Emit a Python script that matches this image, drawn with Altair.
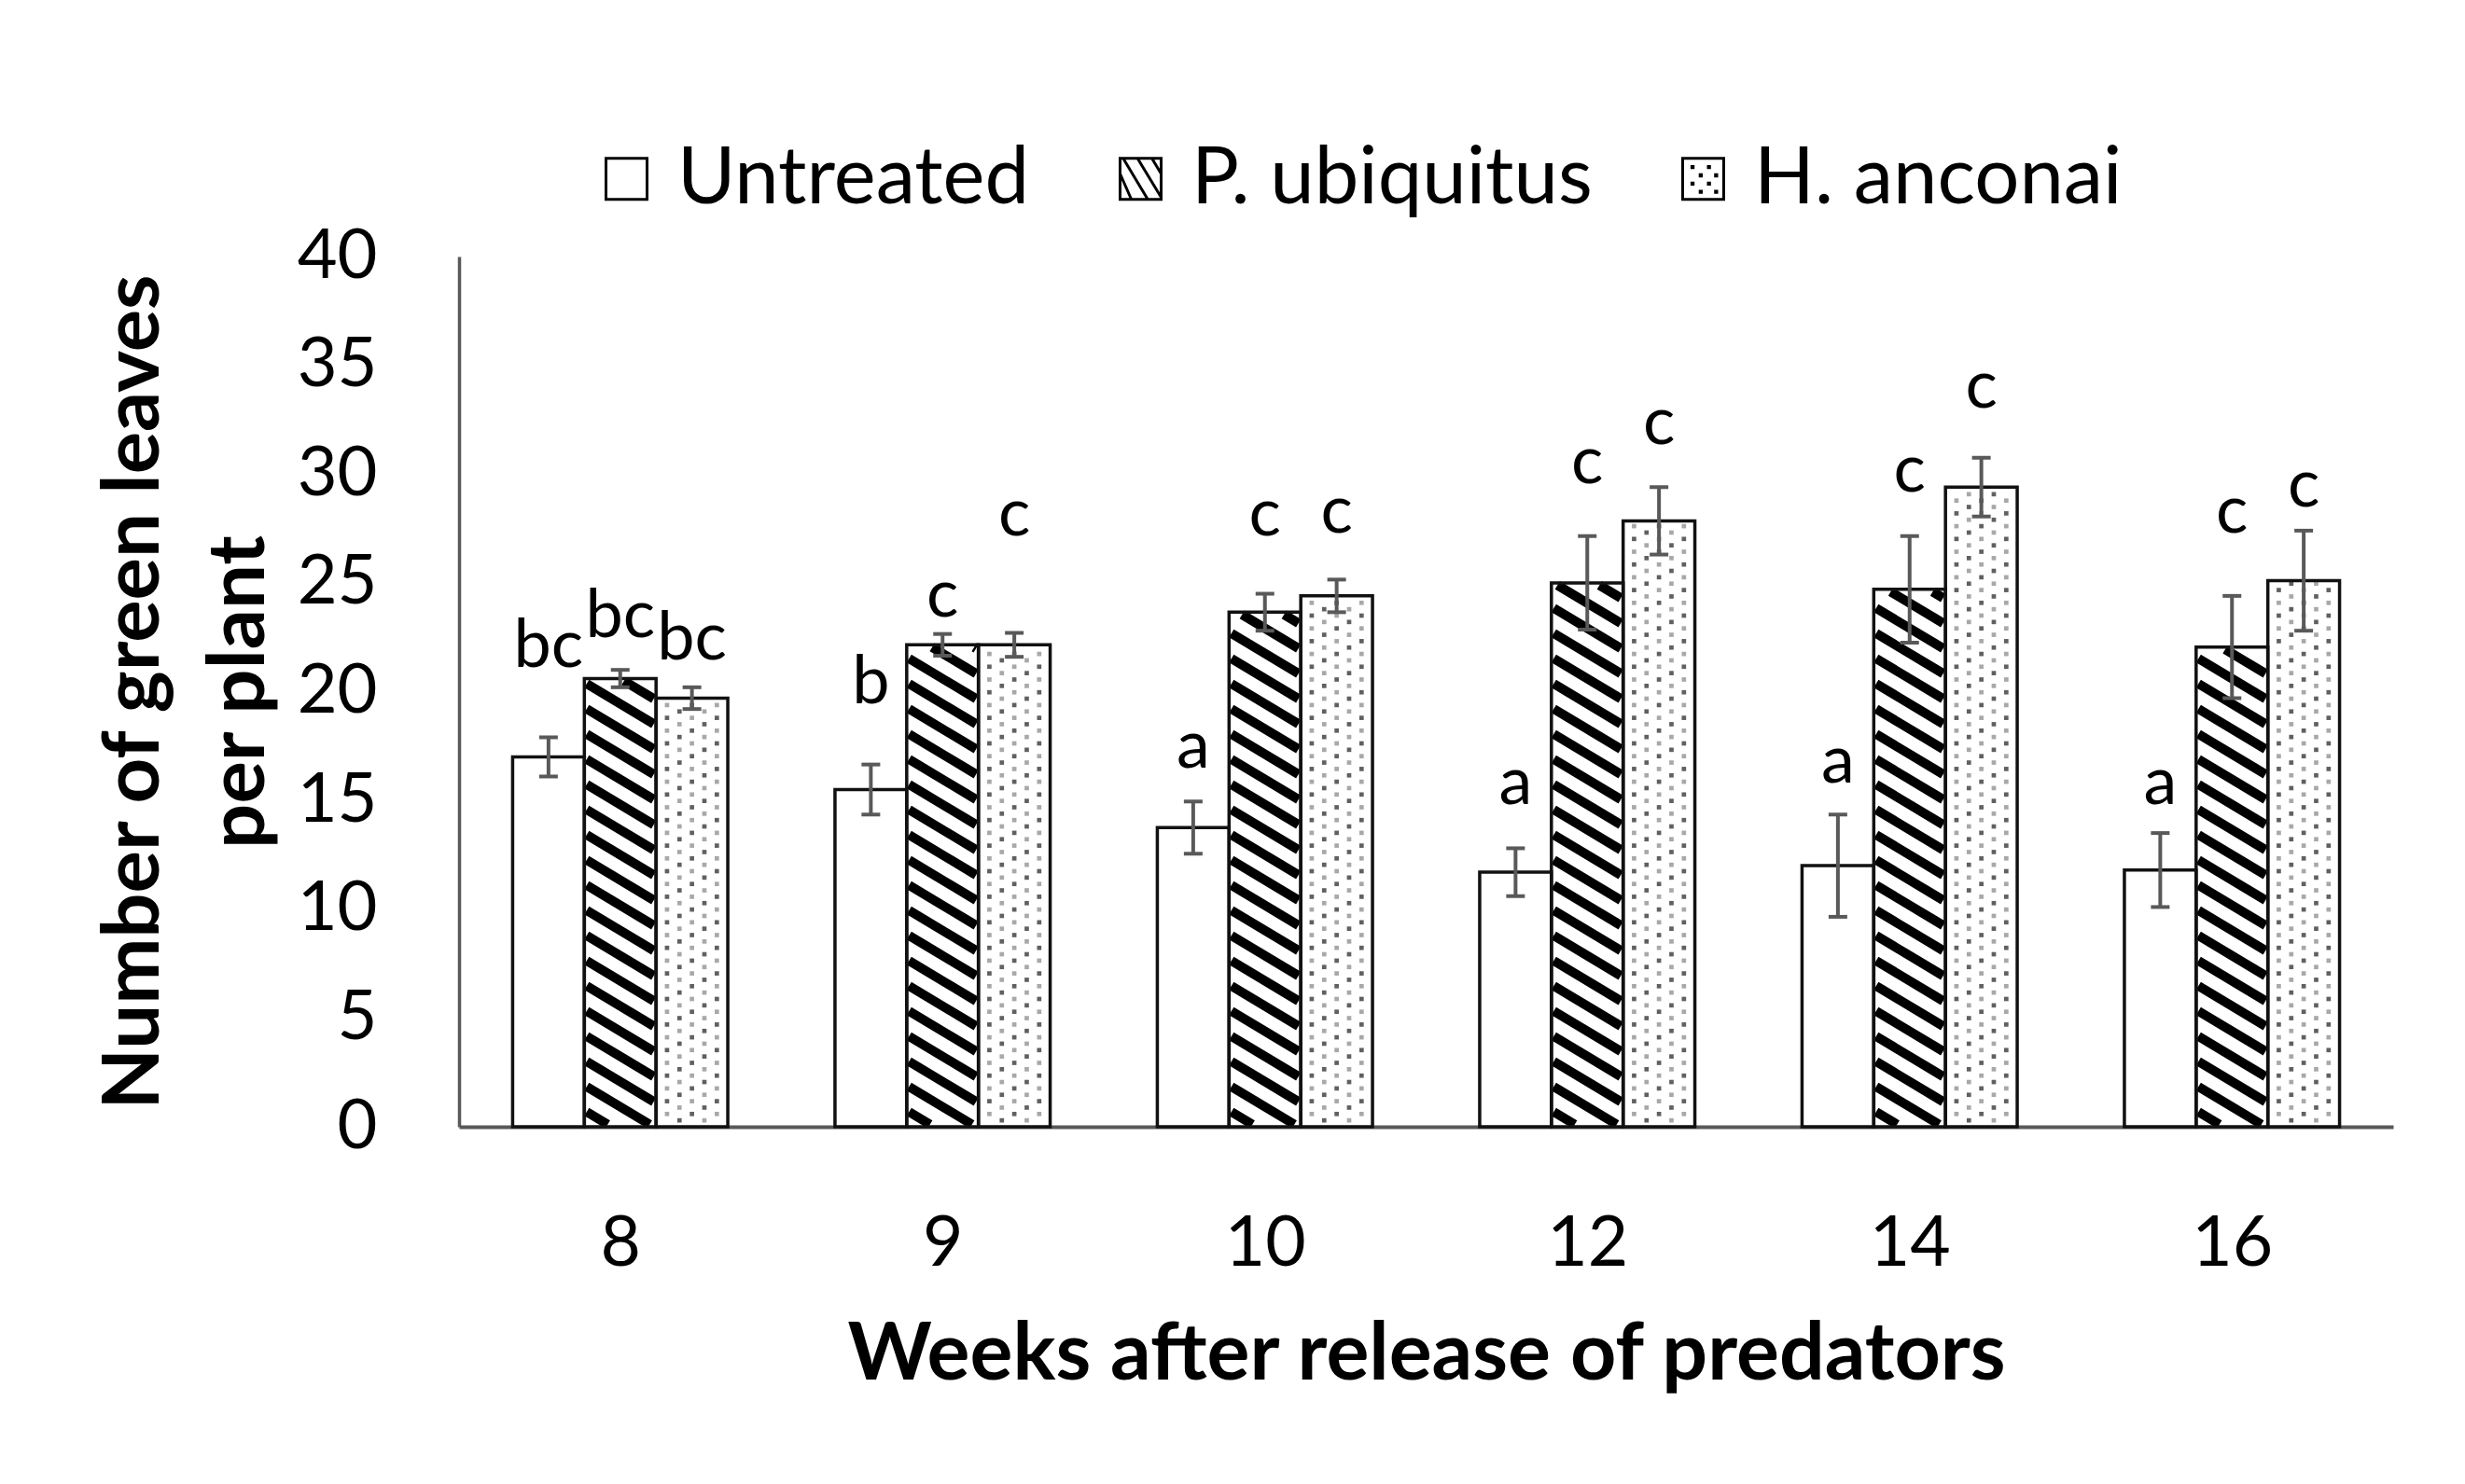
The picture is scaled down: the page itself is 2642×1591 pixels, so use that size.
import altair as alt
import pandas as pd

# ---------------- data ----------------
weeks = [8, 9, 10, 12, 14, 16]
series = ["Untreated", "P. ubiquitus", "H. anconai"]

untreated = [17.0, 15.5, 13.75, 11.7, 12.0, 11.8]
untreated_err = [0.9, 1.15, 1.2, 1.1, 2.35, 1.7]
p_ubiquitus = [20.6, 22.15, 23.65, 25.0, 24.7, 22.05]
p_ubiquitus_err = [0.4, 0.5, 0.85, 2.15, 2.45, 2.35]
h_anconai = [19.7, 22.15, 24.4, 27.85, 29.4, 25.1]
h_anconai_err = [0.5, 0.55, 0.75, 1.55, 1.35, 2.3]

letters_untreated = ["bc", "b", "a", "a", "a", "a"]
letters_p = ["bc", "c", "c", "c", "c", "c"]
letters_h = ["bc", "c", "c", "c", "c", "c"]
# height (in axis units) of the baseline of each significance letter
letter_y_untreated = [21.15, 19.45, 16.5, 14.85, 15.8, 14.85]
letter_y_p = [22.5, 23.45, 27.2, 29.6, 29.2, 27.3]
letter_y_h = [21.5, 27.2, 27.3, 31.4, 33.07, 28.5]

values = [untreated, p_ubiquitus, h_anconai]
errors = [untreated_err, p_ubiquitus_err, h_anconai_err]
letters = [letters_untreated, letters_p, letters_h]
letter_ys = [letter_y_untreated, letter_y_p, letter_y_h]

rows = []
for gi, wk in enumerate(weeks):
    for si, name in enumerate(series):
        rows.append(dict(gi=gi, si=si, series=name, week=wk,
                         value=values[si][gi], err=errors[si][gi],
                         letter=letters[si][gi], label_y=letter_ys[si][gi]))
df = pd.DataFrame(rows)

# ---------------- layout ----------------
PLOT_W = 2073
PLOT_H = 933
Y_MAX = 40
N = len(weeks)
KX = PLOT_W / N          # px per group unit
KY = PLOT_H / Y_MAX      # px per y unit
BAR_W = 0.2225
GPAD = (1 - 3 * BAR_W) / 2
FONT = "Lato"

xscale = alt.Scale(domain=[0, N], nice=False, zero=False)
yscale = alt.Scale(domain=[0, Y_MAX], nice=False)
xaxis = alt.Axis(values=[i + 0.5 for i in range(N)],
                 labelExpr=f"{weeks}[floor(datum.value)]",
                 title="Weeks after release of predators",
                 grid=False, ticks=False, tickSize=0, labelPadding=89,
                 labelFont=FONT, labelFontSize=75, labelColor="black",
                 titleFont=FONT, titleFontSize=86, titleFontWeight="bold",
                 titleColor="black", titlePadding=39,
                 domainColor="#595959", domainWidth=4)
yaxis = alt.Axis(values=list(range(0, 41, 5)),
                 title=["Number of green leaves", "per plant"],
                 grid=False, ticks=False, tickSize=0, labelPadding=88,
                 labelFont=FONT, labelFontSize=74, labelColor="black",
                 titleFont=FONT, titleFontSize=85, titleFontWeight="bold",
                 titleColor="black", titlePadding=18, titleLineHeight=113,
                 domainColor="#595959", domainWidth=3.5)


def X(f):
    return alt.X(f, type="quantitative", scale=xscale, axis=xaxis)


def Y(f):
    return alt.Y(f, type="quantitative", scale=yscale, axis=yaxis)


base = alt.Chart(df).transform_calculate(
    x0=f"datum.gi + {GPAD} + datum.si * {BAR_W}"
).transform_calculate(
    x1=f"datum.x0 + {BAR_W}",
    xc=f"datum.x0 + {BAR_W / 2}",
    lo="datum.value - datum.err",
    hi="datum.value + datum.err",
)

# white bar bodies
bodies = base.mark_rect(fill="white", strokeWidth=0).encode(
    x=X("x0"), x2="x1:Q", y=Y("value"), y2=alt.datum(0)
)

# diagonal hatch for P. ubiquitus
M = 0.6      # slope of the stripes (screen px down per px right)
P = 27.0     # vertical period of the stripes (px)
INSET = 2.5
hatch = base.transform_filter("datum.si == 1").transform_calculate(
    w=f"{BAR_W * KX} - {2 * INSET}",
    h=f"datum.value * {KY} - {2 * INSET}",
).transform_calculate(
    cs=f"sequence({P / 2}, datum.h + {M} * datum.w, {P})"
).transform_flatten(["cs"]).transform_calculate(
    u1=f"max(0, (datum.cs - datum.h) / {M})",
    u2=f"min(datum.w, datum.cs / {M})",
).transform_filter("datum.u2 > datum.u1").transform_calculate(
    hx1=f"datum.x0 + ({INSET} + datum.u1) / {KX}",
    hx2=f"datum.x0 + ({INSET} + datum.u2) / {KX}",
    hy1=f"({INSET} + datum.cs - {M} * datum.u1) / {KY}",
    hy2=f"({INSET} + datum.cs - {M} * datum.u2) / {KY}",
).mark_rule(stroke="black", strokeWidth=10, strokeCap="butt").encode(
    x=X("hx1"), x2="hx2:Q", y=Y("hy1"), y2="hy2:Q"
)

# dotted fill for H. anconai
DX = 13.35
DY = 6.85
dots = base.transform_filter("datum.si == 2").transform_calculate(
    rr=f"sequence(1, floor((datum.value * {KY} - 3) / {DY}) + 1)"
).transform_flatten(["rr"]).transform_calculate(
    cc="sequence(0, 5)"
).transform_flatten(["cc"]).transform_filter(
    "(datum.rr + datum.cc) % 2 == 0"
).transform_calculate(
    dxp=f"datum.x0 + ({BAR_W * KX / 2} + (datum.cc - 2) * {DX}) / {KX}",
    dyp=f"datum.rr * {DY} / {KY}",
    shade="(datum.rr * 3 + datum.cc * 5) % 4 < 2 ? '#606060' : '#a8a8a8'",
).mark_square(size=22, opacity=1).encode(
    x=X("dxp"), y=Y("dyp"), color=alt.Color("shade:N", scale=None)
)

# bar outlines
outlines = base.mark_rect(fillOpacity=0, stroke="#111111", strokeWidth=3.5).encode(
    x=X("x0"), x2="x1:Q", y=Y("value"), y2=alt.datum(0)
)

# error bars
CAP = 10 / KX
err_v = base.mark_rule(color="#595959", strokeWidth=4).encode(
    x=X("xc"), y=Y("lo"), y2="hi:Q"
)
err_caps = base.transform_fold(["lo", "hi"], as_=["end", "ev"]).transform_calculate(
    cl=f"datum.xc - {CAP}", cr=f"datum.xc + {CAP}"
).mark_rule(color="#595959", strokeWidth=4).encode(
    x=X("cl"), x2="cr:Q", y=Y("ev")
)

# significance letters
texts = base.mark_text(font=FONT, fontSize=72, baseline="alphabetic",
                       align="center", color="black").encode(
    x=X("xc"), y=Y("label_y"), text="letter:N"
)

# legend (patterned symbols via SVG paths)
PATH_U = "M-1,-1H1V1H-1Z"
PATH_P = ("M-1,-1H1V1H-1Z M-0.85,-1L0.35,1 M-0.15,-1L1,0.9 M0.55,-1L1,-0.25 "
          "M-1,-0.25L-0.45,1")
PATH_H = ("M-1,-1H1V1H-1Z "
          "M-0.55,-0.6h0.06v0.06h-0.06Z M0.25,-0.6h0.06v0.06h-0.06Z "
          "M-0.15,-0.2h0.06v0.06h-0.06Z M0.6,-0.2h0.06v0.06h-0.06Z "
          "M-0.55,0.2h0.06v0.06h-0.06Z M0.25,0.2h0.06v0.06h-0.06Z "
          "M-0.15,0.6h0.06v0.06h-0.06Z M0.6,0.6h0.06v0.06h-0.06Z")
legend_layer = base.transform_filter("false").mark_point(
    filled=False, color="black", strokeWidth=3, opacity=1
).encode(
    x=X("xc"), y=Y("value"),
    shape=alt.Shape("series:N",
                    scale=alt.Scale(domain=series, range=[PATH_U, PATH_P, PATH_H]),
                    legend=alt.Legend(orient="none", legendX=137, legendY=-126,
                                      direction="horizontal", title=None,
                                      labelFont=FONT, labelFontSize=85,
                                      labelColor="black", labelLimit=2000,
                                      symbolSize=1936, symbolStrokeWidth=3,
                                      symbolStrokeColor="black",
                                      symbolFillColor="white", symbolOpacity=1,
                                      labelOffset=12, columnPadding=76)),
)

chart = alt.layer(
    bodies, hatch, dots, outlines, err_v, err_caps, texts, legend_layer
).properties(
    width=PLOT_W, height=PLOT_H,
    padding={"left": 484, "top": 267, "right": 60, "bottom": 300},
    autosize=alt.AutoSizeParams(type="none"),
    background="white",
).configure_view(strokeWidth=0)

chart.save("out.html", embed_options={"renderer": "svg", "actions": False})
